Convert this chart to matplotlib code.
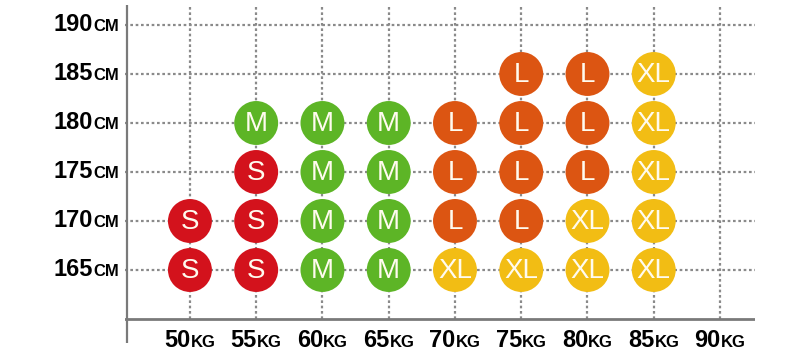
import matplotlib
matplotlib.use("Agg")
import matplotlib.pyplot as plt
from matplotlib import font_manager

# ---- data ----
weights = [50, 55, 60, 65, 70, 75, 80, 85, 90]
heights = [165, 170, 175, 180, 185, 190]
weight_unit = "KG"
height_unit = "CM"
# (weight, height, size)
pt_weight = [50, 55, 60, 65, 70, 75, 80, 85,
             50, 55, 60, 65, 70, 75, 80, 85,
             55, 60, 65, 70, 75, 80, 85,
             55, 60, 65, 70, 75, 80, 85,
             75, 80, 85]
pt_height = [165]*8 + [170]*8 + [175]*7 + [180]*7 + [185]*3
pt_size = ["S", "S", "M", "M", "XL", "XL", "XL", "XL",
           "S", "S", "M", "M", "L", "L", "XL", "XL",
           "S", "M", "M", "L", "L", "L", "XL",
           "M", "M", "M", "L", "L", "L", "XL",
           "L", "L", "XL"]
size_colors = {"S": "#d3121c", "M": "#5db526", "L": "#dc5512", "XL": "#f2bd14"}

# fonts
avail = {f.name for f in font_manager.fontManager.ttflist}
narrow = "Liberation Sans Narrow" if "Liberation Sans Narrow" in avail else "Liberation Sans"
boldf = "Liberation Sans" if "Liberation Sans" in avail else "DejaVu Sans"

W, H = 800, 354
fig = plt.figure(figsize=(W/100, H/100), dpi=100)
ax = fig.add_axes([125/W, 1 - 343/H, (755-125)/W, (343-5)/H])
ax.set_xlim(45.1, 92.64)
ax.set_ylim(157.55, 192.04)

gridc = "#8a8a8a"
axc = "#7a7a7a"
xmin, xmax = ax.get_xlim()
ymin, ymax = ax.get_ylim()
ax.hlines(heights, xmin, xmax, colors=gridc, linestyles=(0, (1.2, 1.2)), linewidth=1.6, zorder=1)
ax.vlines(weights, 160, ymax, colors=gridc, linestyles=(0, (1.2, 1.2)), linewidth=1.6, zorder=1)
ax.axhline(160, color=axc, linewidth=2, zorder=2)
ax.axvline(xmin + 0.15, color=axc, linewidth=1.6, zorder=2)

for s in ax.spines.values():
    s.set_visible(False)
ax.set_xticks([]); ax.set_yticks([])

cols = [size_colors[s] for s in pt_size]
ax.scatter(pt_weight, pt_height, s=1000, c=cols, edgecolors="none", zorder=3)
for x, y, s in zip(pt_weight, pt_height, pt_size):
    ax.text(x, y - 0.1, s, ha="center", va="center", color="#fffbef",
            fontsize=20, family=narrow, zorder=4)

fig.canvas.draw()
renderer = fig.canvas.get_renderer()

def width_px(t):
    return t.get_window_extent(renderer).width

# y labels: right edge at pixel x=119
for h in heights:
    yfig = ax.transData.transform((0, h))[1]
    off = -6.5
    tu = fig.text(119/W, (yfig + off)/H, height_unit, ha="right", va="baseline",
                  fontsize=12, fontweight="bold", family=boldf)
    wu = width_px(tu)
    fig.text((119 - wu)/W, (yfig + off)/H, str(h), ha="right", va="baseline",
             fontsize=17, fontweight="bold", family=boldf)

# x labels centred under ticks
for w in weights:
    xfig = ax.transData.transform((w, 0))[0]
    tn = fig.text(0, 1 - 347/H, str(w), ha="left", va="baseline",
                  fontsize=17, fontweight="bold", family=boldf)
    tu = fig.text(0, 1 - 347/H, weight_unit, ha="left", va="baseline",
                  fontsize=12, fontweight="bold", family=boldf)
    wn = width_px(tn); wu = width_px(tu)
    left = xfig - (wn + wu)/2
    tn.set_x(left/W); tu.set_x((left + wn)/W)

fig.savefig("out.png", dpi=100, facecolor="white")
